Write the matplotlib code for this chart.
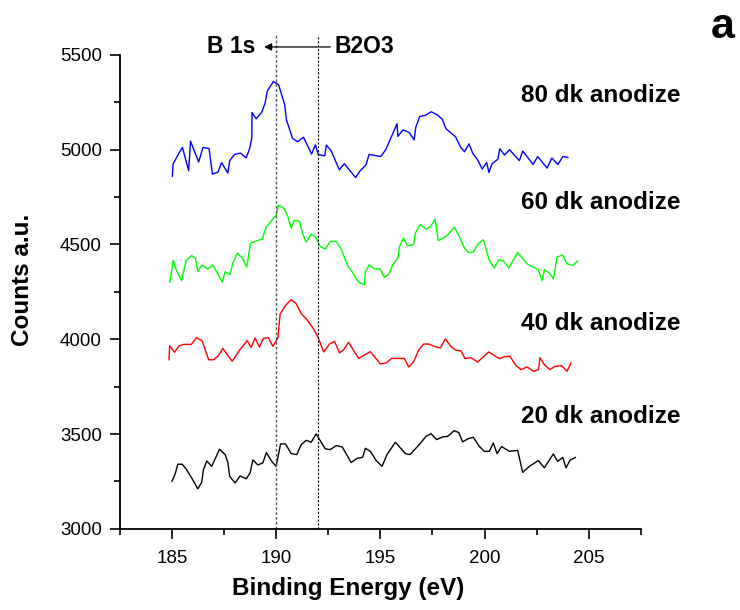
import matplotlib
matplotlib.use("Agg")
import matplotlib.pyplot as plt

plt.rcParams['font.family'] = ['Liberation Sans', 'DejaVu Sans']

# ---- data ----
x80 = [185.02, 185.05, 185.29, 185.50, 185.80, 185.89, 186.28, 186.49, 186.78, 186.94,
       187.21, 187.38, 187.68, 187.77, 188.00, 188.29, 188.56, 188.72, 188.83, 188.84,
       189.04, 189.30, 189.47, 189.58, 189.87, 190.12, 190.41, 190.49, 190.79, 191.03,
       191.31, 191.70, 191.88, 192.02, 192.33, 192.41, 192.63, 193.03, 193.27, 193.81,
       194.02, 194.31, 194.46, 195.02, 195.26, 195.80, 195.84, 196.09, 196.38, 196.62,
       196.70, 196.89, 197.18, 197.44, 197.73, 197.97, 198.15, 198.61, 198.85, 199.04,
       199.25, 199.44, 199.65, 199.89, 200.10, 200.21, 200.36, 200.64, 200.73, 200.96,
       201.20, 201.67, 201.83, 202.33, 202.55, 203.00, 203.23, 203.52, 203.76, 204.00]
y80 = [4859, 4924, 4973, 5012, 4890, 5045, 4935, 5012, 5006, 4871,
       4882, 4932, 4877, 4942, 4975, 4982, 4957, 5003, 5061, 5196,
       5163, 5196, 5246, 5311, 5360, 5342, 5237, 5158, 5059, 5042,
       5066, 4977, 5026, 4975, 4968, 5024, 4996, 4894, 4926, 4853,
       4887, 4920, 4975, 4964, 5000, 5137, 5070, 5105, 5091, 5052,
       5119, 5175, 5182, 5200, 5184, 5161, 5110, 5068, 5014, 4989,
       5031, 4980, 4950, 4898, 4932, 4880, 4926, 4950, 5005, 4972,
       5000, 4942, 4993, 4922, 4964, 4903, 4956, 4922, 4964, 4959]

x60 = [184.90, 185.06, 185.20, 185.46, 185.68, 185.94, 186.13, 186.24, 186.43, 186.72,
       186.96, 187.25, 187.41, 187.55, 187.79, 187.92, 188.14, 188.37, 188.59, 188.77,
       189.33, 189.52, 190.00, 190.11, 190.40, 190.56, 190.72, 190.88, 191.12, 191.28,
       191.44, 191.68, 191.88, 192.11, 192.36, 192.59, 192.88, 193.12, 193.43, 193.67,
       193.95, 194.24, 194.28, 194.47, 194.71, 194.99, 195.19, 195.40, 195.59, 195.85,
       195.91, 196.11, 196.31, 196.59, 196.68, 196.91, 197.19, 197.39, 197.63, 197.78,
       198.15, 198.31, 198.55, 198.79, 199.00, 199.22, 199.46, 199.70, 199.94, 200.23,
       200.47, 200.68, 200.90, 201.16, 201.59, 202.07, 202.58, 202.76, 202.87, 203.11,
       203.31, 203.48, 203.75, 203.96, 204.23, 204.47]
y60 = [4302, 4416, 4367, 4309, 4416, 4442, 4425, 4358, 4392, 4371,
       4392, 4335, 4302, 4356, 4341, 4402, 4455, 4429, 4381, 4508,
       4529, 4592, 4655, 4708, 4687, 4648, 4587, 4627, 4622, 4555,
       4513, 4555, 4541, 4490, 4476, 4516, 4516, 4476, 4388, 4353,
       4300, 4288, 4355, 4393, 4371, 4371, 4326, 4344, 4393, 4430,
       4487, 4534, 4493, 4499, 4560, 4606, 4581, 4592, 4634, 4520,
       4543, 4560, 4591, 4543, 4487, 4458, 4460, 4504, 4525, 4416,
       4376, 4418, 4414, 4376, 4458, 4395, 4367, 4310, 4367, 4350,
       4318, 4434, 4444, 4398, 4390, 4413]

x40 = [184.86, 184.89, 185.12, 185.35, 185.56, 185.93, 186.17, 186.44, 186.76, 187.00,
       187.24, 187.44, 187.89, 188.24, 188.61, 188.80, 188.99, 189.20, 189.39, 189.63,
       189.84, 190.08, 190.19, 190.45, 190.72, 190.96, 191.20, 191.44, 191.73, 191.95,
       192.04, 192.28, 192.56, 192.80, 193.04, 193.24, 193.47, 193.96, 194.52, 195.00,
       195.28, 195.54, 196.15, 196.36, 196.60, 196.84, 197.08, 197.32, 197.59, 197.88,
       198.12, 198.37, 198.61, 198.87, 199.06, 199.35, 199.67, 200.20, 200.71, 200.95,
       201.22, 201.51, 201.75, 202.04, 202.36, 202.59, 202.66, 202.87, 203.14, 203.38,
       203.70, 203.96, 204.15]
y40 = [3892, 3966, 3931, 3966, 3973, 3973, 4008, 3993, 3892, 3892,
       3915, 3952, 3884, 3942, 3993, 3957, 4007, 3959, 4005, 4008,
       3963, 4005, 4133, 4179, 4209, 4188, 4135, 4109, 4065, 4024,
       4002, 3933, 3975, 3989, 3928, 3945, 3984, 3899, 3935, 3870,
       3875, 3899, 3899, 3854, 3882, 3944, 3975, 3975, 3963, 3954,
       4002, 3964, 3942, 3940, 3898, 3903, 3880, 3933, 3898, 3908,
       3910, 3861, 3840, 3854, 3831, 3840, 3903, 3866, 3840, 3857,
       3861, 3831, 3875]

x20 = [185.00, 185.16, 185.28, 185.49, 185.68, 185.97, 186.24, 186.43, 186.51, 186.67,
       186.91, 187.28, 187.55, 187.68, 187.77, 188.03, 188.27, 188.56, 188.75, 188.88,
       189.12, 189.36, 189.53, 189.79, 190.00, 190.21, 190.45, 190.72, 190.99, 191.20,
       191.44, 191.68, 191.92, 192.35, 192.59, 192.88, 193.17, 193.60, 193.88, 194.15,
       194.28, 194.52, 194.80, 195.08, 195.32, 195.72, 196.20, 196.43, 196.91, 197.19,
       197.43, 197.70, 197.99, 198.23, 198.54, 198.76, 198.95, 199.22, 199.46, 199.75,
       199.99, 200.23, 200.42, 200.60, 200.82, 201.19, 201.59, 201.83, 202.15, 202.58,
       202.87, 203.30, 203.51, 203.75, 203.91, 204.10, 204.36]
y20 = [3251, 3292, 3341, 3341, 3316, 3264, 3211, 3246, 3313, 3358,
       3330, 3420, 3392, 3351, 3277, 3242, 3279, 3264, 3295, 3364,
       3337, 3348, 3402, 3356, 3330, 3448, 3448, 3397, 3392, 3444,
       3467, 3457, 3501, 3422, 3418, 3439, 3432, 3350, 3372, 3377,
       3425, 3409, 3360, 3330, 3392, 3457, 3397, 3392, 3450, 3488,
       3502, 3471, 3485, 3488, 3518, 3508, 3459, 3476, 3483, 3435,
       3409, 3409, 3453, 3397, 3434, 3409, 3414, 3298, 3330, 3360,
       3322, 3395, 3356, 3377, 3322, 3362, 3377]

series_labels = ["80 dk anodize", "60 dk anodize", "40 dk anodize", "20 dk anodize"]
label_y = [5284, 4720, 4082, 3592]
ref_lines = [190.0, 192.0]
xticks = [185, 190, 195, 200, 205]
yticks = [3000, 3500, 4000, 4500, 5000, 5500]

# ---- figure ----
fig = plt.figure(figsize=(7.4, 6.1), dpi=100)
ax = fig.add_axes([0.162, 0.133, 0.704, 0.777])

ax.plot(x20, y20, color='black', lw=1.0)
ax.plot(x40, y40, color='#ff0000', lw=1.0)
ax.plot(x60, y60, color='#00ff00', lw=1.0)
ax.plot(x80, y80, color='#0000ff', lw=1.0)

ax.set_xlim(182.5, 207.5)
ax.set_ylim(3000, 5500)

# reference lines (extend above the axes)
ax.plot([ref_lines[0]] * 2, [3000, 5605], color='#555555', lw=1.0,
        ls=(0, (2, 1.5)), clip_on=False)
ax.plot([ref_lines[1]] * 2, [3000, 5605], color='black', lw=0.8,
        ls=(0, (2, 1.5)), clip_on=False)

# arrow B2O3 -> B 1s
ax.annotate('', xy=(189.42, 5542), xytext=(192.6, 5542),
            arrowprops=dict(arrowstyle='-|>', color='black', lw=0.9,
                            mutation_scale=11, shrinkA=0, shrinkB=0),
            annotation_clip=False)
ax.text(188.98, 5542, 'B 1s', ha='right', va='center', fontsize=16.5,
        fontweight='bold', clip_on=False)
ax.text(192.8, 5542, 'B2O3', ha='left', va='center',
        fontsize=16.5, fontweight='bold', clip_on=False)

for lab, ly in zip(series_labels, label_y):
    ax.text(201.75, ly, lab, ha='left', va='center', fontsize=17.5,
            fontweight='bold', clip_on=False)

fig.text(0.993, 0.955, 'a', ha='right', va='center', fontsize=31,
         fontweight='bold')

ax.set_xticks(xticks)
ax.set_yticks(yticks)
ax.set_xticks([182.5 + 5 * i for i in range(6)], minor=True)
ax.set_yticks([3250 + 500 * i for i in range(5)], minor=True)
ax.tick_params(which='major', direction='out', length=7, width=1.2,
               labelsize=13.5)
ax.tick_params(which='minor', direction='out', length=4, width=1.2)
ax.tick_params(axis='x', pad=8)
ax.tick_params(axis='y', pad=6)

for s in ['top', 'right']:
    ax.spines[s].set_visible(False)
for s in ['left', 'bottom']:
    ax.spines[s].set_linewidth(1.3)

ax.set_xlabel('Binding Energy (eV)', fontsize=17.5, fontweight='bold')
ax.set_ylabel('Counts a.u.', fontsize=17.5, fontweight='bold')
# label positions in axes coordinates
ax.xaxis.set_label_coords((348 - 120) / 521, -(577 - 529) / 474)
ax.yaxis.set_label_coords(-(120 - 34) / 521, (529 - 280) / 474)

fig.savefig('out.png', dpi=100)
